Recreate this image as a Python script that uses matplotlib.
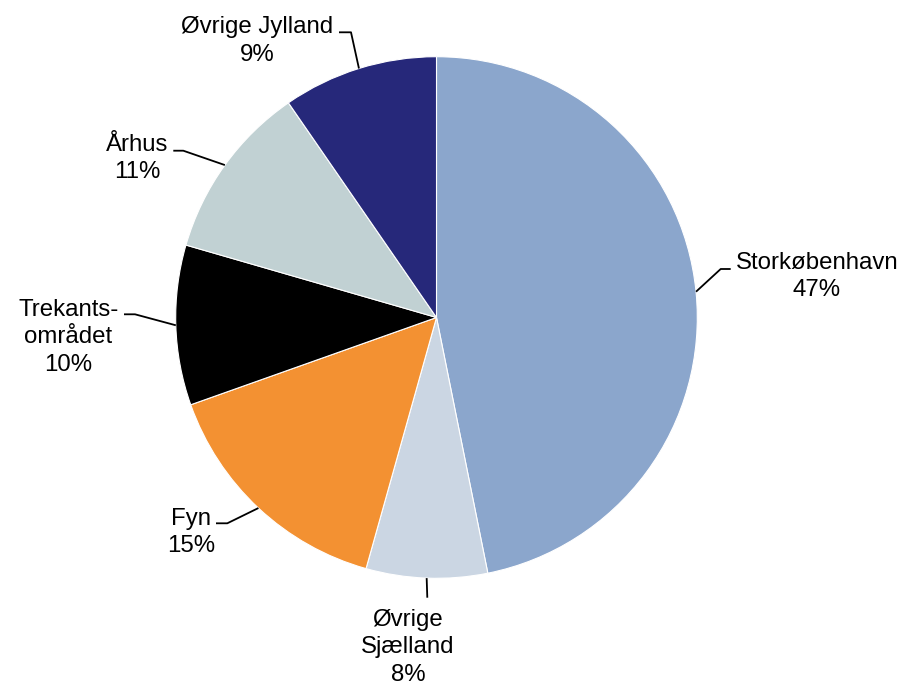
import numpy as np
import matplotlib
matplotlib.use("Agg")
import matplotlib.pyplot as plt

# Data
regions = ["Storkøbenhavn", "Øvrige Sjælland", "Fyn", "Trekantsområdet", "Århus", "Øvrige Jylland"]
shares = [46.8, 7.5, 15.2, 9.9, 10.9, 9.6]
label_names = ["Storkøbenhavn", "Øvrige\nSjælland", "Fyn", "Trekants-\nområdet", "Århus", "Øvrige Jylland"]
label_pcts = ["47%", "8%", "15%", "10%", "11%", "9%"]
colors = ["#8ba6cc", "#cbd6e3", "#f39132", "#000000", "#c1d1d3", "#26287a"]

W, H = 905, 685
CX, CY, R = 436.5, 317.5, 260.8  # pie centre / radius in pixels

plt.rcParams['font.family'] = ['Liberation Sans', 'DejaVu Sans']

fig = plt.figure(figsize=(W / 100, H / 100), dpi=100)
ax = fig.add_axes([(CX - R) / W, (H - CY - R) / H, 2 * R / W, 2 * R / H])

wedges, _ = ax.pie(shares, colors=colors, startangle=90, counterclock=False,
                   radius=1.0, wedgeprops=dict(edgecolor='white', linewidth=0.8))
ax.set_xlim(-1, 1)
ax.set_ylim(-1, 1)
ax.axis('off')


def px2d(px, py):
    return (px - CX) / R, (CY - py) / R


# label layout in pixels: text centre x, first baseline y, elbow (x, y), horizontal end x
layout = [
    (816.8, 269.0, (720.7, 269.0), 730.7),
    (408.0, 625.7, (427.3, 597.7), None),
    (190.7, 524.8, (227.3, 523.3), 216.0),
    (68.5, 316.0, (135.0, 314.3), 124.0),
    (137.5, 150.7, (183.3, 150.7), 173.3),
    (257.5, 33.5, (351.0, 32.3), 339.0),
]
line_gap = 27.5
fs = 17.3

for w, name, pct, (tx, tb, (ex, ey), hx) in zip(wedges, label_names, label_pcts, layout):
    mid = np.deg2rad((w.theta1 + w.theta2) / 2)
    sx, sy = np.cos(mid), np.sin(mid)
    exd, eyd = px2d(ex, ey)
    xs = [sx, exd]
    ys = [sy, eyd]
    if hx is not None:
        hxd, _ = px2d(hx, ey)
        xs.append(hxd)
        ys.append(eyd)
    ax.plot(xs, ys, color='black', lw=1.3, clip_on=False, solid_capstyle='butt')
    lines = name.split("\n") + [pct]
    for i, ln in enumerate(lines):
        x, y = px2d(tx, tb + i * line_gap)
        ax.text(x, y, ln, ha='center', va='baseline', fontsize=fs, color='black', clip_on=False)

fig.savefig("out.png", dpi=100)
